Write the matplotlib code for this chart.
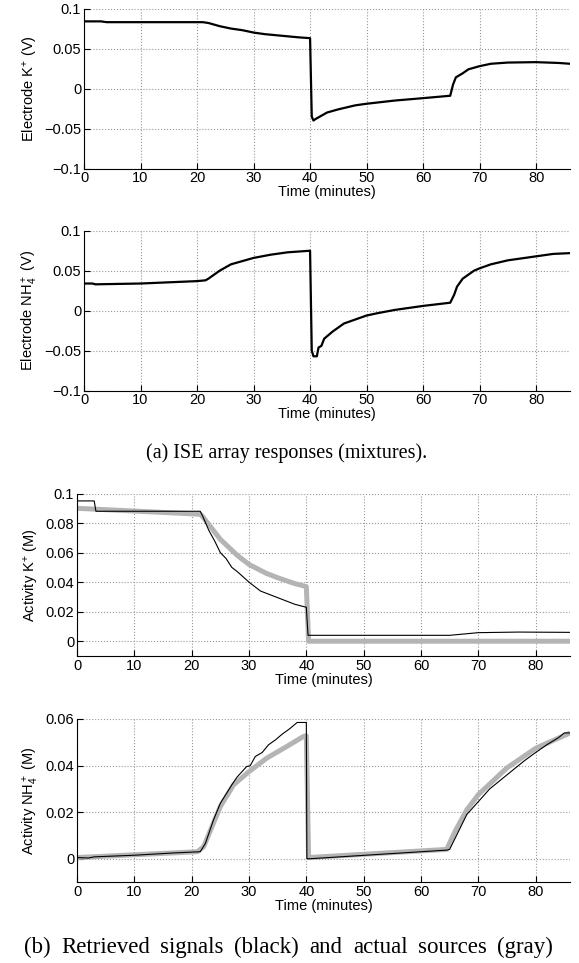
import matplotlib.pyplot as plt
import numpy as np

plt.rcParams['font.family'] = ['Liberation Sans', 'DejaVu Sans']
plt.rcParams['mathtext.fontset'] = 'custom'
plt.rcParams['mathtext.rm'] = 'Liberation Sans'
plt.rcParams['mathtext.it'] = 'Liberation Sans'

# (a) electrode responses (V)
t_ek = [0, 3, 4, 21, 22, 24, 26, 28, 30, 32, 35, 38, 40, 40.3, 40.6, 41, 42, 43, 45, 48, 50,
        55, 60, 64.8, 65.3, 65.8, 67, 68, 69, 70, 72, 75, 80, 84, 86]
ek = [0.084, 0.084, 0.083, 0.083, 0.082, 0.078, 0.075, 0.073, 0.070, 0.068, 0.066, 0.064, 0.063,
      -0.035, -0.040, -0.038, -0.034, -0.030, -0.026, -0.021, -0.019,
      -0.015, -0.012, -0.009, 0.005, 0.014, 0.019, 0.024, 0.026, 0.028, 0.031, 0.0325, 0.033, 0.032, 0.031]

t_enh = [0, 1.5, 2, 10, 20, 21.5, 22, 23, 24, 25, 26, 28, 30, 33, 36, 40, 40.3, 40.6, 41.2, 41.5,
         42, 42.5, 44, 46, 48, 50, 52, 55, 60, 64.8, 65.5, 66, 67, 68, 69, 70, 72, 75, 80, 83, 86]
enh = [0.034, 0.034, 0.033, 0.034, 0.037, 0.038, 0.040, 0.045, 0.050, 0.054, 0.058, 0.062, 0.066,
       0.070, 0.073, 0.075, -0.050, -0.057, -0.057, -0.046, -0.044, -0.035, -0.026, -0.016, -0.011,
       -0.006, -0.003, 0.001, 0.006, 0.010, 0.020, 0.030, 0.040, 0.045, 0.050, 0.053, 0.058, 0.063,
       0.068, 0.071, 0.072]

# (b) retrieved (black) and actual (gray) activities (M)
t_rk = [0, 3, 3.3, 21.5, 22, 23, 24, 25, 26, 27, 28, 30, 32, 34, 36, 38, 40, 40.3, 65, 70, 77, 86]
rk = [0.095, 0.095, 0.088, 0.088, 0.084, 0.075, 0.068, 0.060, 0.056, 0.050, 0.047, 0.040, 0.034,
      0.031, 0.028, 0.025, 0.023, 0.004, 0.004, 0.0058, 0.0062, 0.006]
t_sk = [0, 21.5, 22, 25, 28, 30, 33, 35, 38, 40, 40.4, 86]
sk = [0.090, 0.086, 0.084, 0.069, 0.058, 0.052, 0.046, 0.043, 0.039, 0.037, 0.0, 0.0]

t_rnh = [0, 2, 3, 10, 17, 21.5, 22.4, 23.8, 25, 27, 27.9, 29.6, 30.2, 31.1, 32.3, 33.4, 34.6,
         35.8, 37.1, 38.4, 40, 40.1, 40.7, 64.5, 65, 66, 67, 68, 70, 72, 75, 78, 80, 82, 84, 85, 86]
rnh = [0.0005, 0.0003, 0.0008, 0.0015, 0.0025, 0.003, 0.0066, 0.0166, 0.0238, 0.0317, 0.035,
       0.0396, 0.0399, 0.0439, 0.0456, 0.0489, 0.051, 0.0535, 0.0558, 0.0585, 0.0585, 0.0, 0.0,
       0.0037, 0.004, 0.009, 0.014, 0.019, 0.0245, 0.030, 0.036, 0.042, 0.0456, 0.049, 0.052,
       0.054, 0.054]
t_snh = [0, 21, 22.1, 25, 27.3, 30, 33.1, 36.6, 39.5, 40, 40.4, 64.5, 66, 68, 70, 75, 80, 86]
snh = [0.0005, 0.003, 0.0052, 0.0224, 0.0317, 0.0374, 0.0432, 0.0482, 0.0525, 0.0528, 0.0005,
       0.004, 0.012, 0.021, 0.0275, 0.039, 0.0474, 0.054]

cap_a = '(a) ISE array responses (mixtures).'
cap_b = '(b) Retrieved signals (black) and actual sources (gray)'

fig = plt.figure(figsize=(5.79, 9.63), dpi=100)

def style(ax, ylim, yticks, ylabels, ylabel):
    ax.set_xlim(0, 86)
    ax.set_ylim(*ylim)
    ax.set_xticks(np.arange(0, 90, 10))
    ax.set_yticks(yticks)
    ax.set_yticklabels(ylabels)
    ax.spines['top'].set_visible(False)
    ax.spines['right'].set_visible(False)
    ax.tick_params(direction='in', length=4, width=0.8, labelsize=10.5, pad=2)
    ax.grid(True, linestyle=':', color='#999999', linewidth=0.8)
    ax.set_axisbelow(True)
    ax.set_xlabel('Time (minutes)', fontsize=10.5, labelpad=0)
    ax.set_ylabel(ylabel, fontsize=10.5, labelpad=3)

m = '\u2212'
ax1 = fig.add_axes([0.1451, 0.8250, 0.8394, 0.1661])
ax1.plot(t_ek, ek, color='black', lw=1.6)
style(ax1, (-0.1, 0.1), [-0.1, -0.05, 0, 0.05, 0.1],
      [m + '0.1', m + '0.05', '0', '0.05', '0.1'], 'Electrode K$^{+}$ (V)')

ax2 = fig.add_axes([0.1451, 0.5943, 0.8394, 0.1661])
ax2.plot(t_enh, enh, color='black', lw=1.6)
style(ax2, (-0.1, 0.1), [-0.1, -0.05, 0, 0.05, 0.1],
      [m + '0.1', m + '0.05', '0', '0.05', '0.1'], 'Electrode NH$_4^+$ (V)')

fig.text(0.495, 0.5296, cap_a, ha='center', va='center',
         fontsize=14.5, family='Liberation Serif')

ax3 = fig.add_axes([0.1330, 0.3188, 0.8515, 0.1687])
ax3.plot(t_sk, sk, color='#b4b4b4', lw=3.6, solid_capstyle='butt')
ax3.plot(t_rk, rk, color='black', lw=0.8)
style(ax3, (-0.01, 0.1), [0, 0.02, 0.04, 0.06, 0.08, 0.1],
      ['0', '0.02', '0.04', '0.06', '0.08', '0.1'], 'Activity K$^{+}$ (M)')

ax4 = fig.add_axes([0.1330, 0.0841, 0.8515, 0.1693])
ax4.plot(t_snh, snh, color='#b4b4b4', lw=3.6, solid_capstyle='butt')
ax4.plot(t_rnh, rnh, color='black', lw=0.8)
style(ax4, (-0.01, 0.06), [0, 0.02, 0.04, 0.06],
      ['0', '0.02', '0.04', '0.06'], 'Activity NH$_4^+$ (M)')

# caption (b) runs across the column: spread the words slightly to fill it
W = 579.0
x0, x1 = 24.0, 553.0
r = fig.canvas.get_renderer()
words = [fig.text(0, 0.0166, w, ha='left', va='center', fontsize=16.5,
                  family='Liberation Serif') for w in cap_b.split()]
widths = [t.get_window_extent(renderer=r).width for t in words]
gap = (x1 - x0 - sum(widths)) / (len(words) - 1)
x = x0
for t, w in zip(words, widths):
    t.set_x(x / W)
    x += w + gap

fig.savefig('out.png', dpi=100)
